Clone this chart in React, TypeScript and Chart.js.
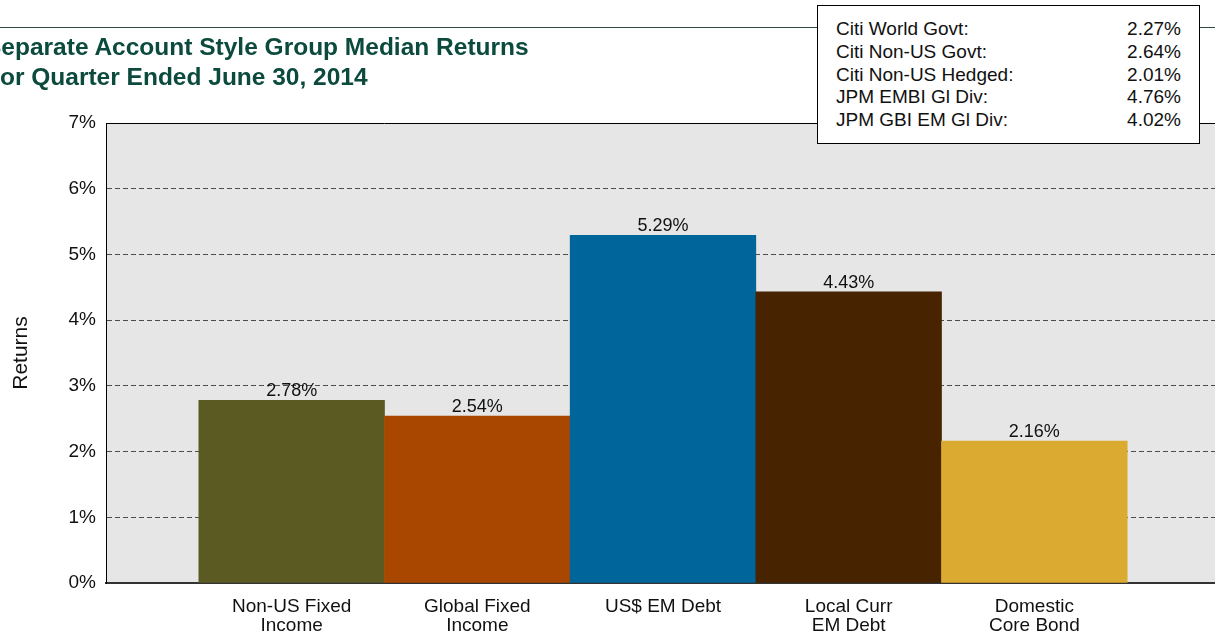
import React, { useEffect, useRef } from 'react';
import { Chart, registerables } from 'chart.js';

Chart.register(...registerables);

const FONT = "'Liberation Sans', Arial, Helvetica, sans-serif";

const titleLines = ['Separate Account Style Group Median Returns', 'For Quarter Ended June 30, 2014'];
const categories: (string | string[])[] = [
  ['Non-US Fixed', 'Income'],
  ['Global Fixed', 'Income'],
  'US$ EM Debt',
  ['Local Curr', 'EM Debt'],
  ['Domestic', 'Core Bond'],
];
const returns = [2.78, 2.54, 5.29, 4.43, 2.16];
const barColors = ['#5b5a22', '#a94700', '#00659b', '#472300', '#dbab31'];
const yTicks = [0, 1, 2, 3, 4, 5, 6, 7];
const yAxisTitle = 'Returns';
const indexNames = ['Citi World Govt:', 'Citi Non-US Govt:', 'Citi Non-US Hedged:', 'JPM EMBI Gl Div:', 'JPM GBI EM Gl Div:'];
const indexReturns = [2.27, 2.64, 2.01, 4.76, 4.02];

// pad with an empty half-category band on each side
const paddedLabels = ['', ...categories, ''];
const paddedValues: (number | null)[] = [null, ...returns, null];
const paddedColors = ['rgba(0,0,0,0)', ...barColors, 'rgba(0,0,0,0)'];

const decorPlugin = {
  id: 'decor',
  beforeDraw(chart: any) {
    const { ctx, chartArea: a } = chart;
    ctx.save();
    ctx.fillStyle = '#e6e6e6';
    ctx.fillRect(a.left, a.top, a.right - a.left, a.bottom - a.top);
    ctx.restore();
  },
  afterDatasetsDraw(chart: any) {
    const { ctx, chartArea: a } = chart;
    ctx.save();
    ctx.strokeStyle = '#000';
    ctx.lineWidth = 1;
    ctx.beginPath();
    ctx.moveTo(a.left, Math.round(a.top) + 0.5);
    ctx.lineTo(a.right, Math.round(a.top) + 0.5);
    ctx.stroke();
    const meta = chart.getDatasetMeta(0);
    ctx.fillStyle = '#111';
    ctx.font = `18px ${FONT}`;
    ctx.textAlign = 'center';
    ctx.textBaseline = 'middle';
    meta.data.forEach((el: any, i: number) => {
      const v = paddedValues[i];
      if (v == null) return;
      ctx.fillText(v.toFixed(2) + '%', el.x, el.y - 9);
    });
    ctx.restore();
  },
};

export default function App() {
  const canvasRef = useRef<HTMLCanvasElement | null>(null);

  useEffect(() => {
    if (!canvasRef.current) return;
    Chart.defaults.font.family = FONT;
    const chart = new Chart(canvasRef.current, {
      type: 'bar',
      data: {
        labels: paddedLabels,
        datasets: [
          {
            data: paddedValues,
            backgroundColor: paddedColors,
            borderWidth: 0,
            barPercentage: 1,
            categoryPercentage: 1,
          },
        ],
      },
      options: {
        animation: false,
        responsive: false,
        layout: { padding: { top: 123, right: 6, bottom: 0, left: 0 } },
        plugins: {
          legend: { display: false },
          tooltip: { enabled: false },
          title: { display: false },
        },
        scales: {
          x: {
            type: 'category',
            offset: false,
            grid: { display: false },
            border: { display: true, color: '#333', width: 2 },
            ticks: {
              autoSkip: false,
              maxRotation: 0,
              minRotation: 0,
              padding: 6,
              color: '#111',
              font: { size: 19, lineHeight: 1.0 },
            },
            afterFit: (s: any) => {
              s.height = 52;
            },
          },
          y: {
            min: 0,
            max: 7,
            afterBuildTicks: (s: any) => {
              s.ticks = yTicks.map((v) => ({ value: v }));
            },
            ticks: {
              callback: (v: any) => v + '%',
              padding: 10,
              color: '#111',
              font: { size: 19 },
            },
            grid: {
              drawTicks: false,
              lineWidth: 1,
              color: (c: any) =>
                c.tick && (c.tick.value === 0 || c.tick.value === 7) ? 'rgba(0,0,0,0)' : '#4d4d4d',
            },
            border: { display: true, color: '#000', width: 1, dash: [5, 3] },
            title: {
              display: true,
              text: yAxisTitle,
              color: '#111',
              font: { size: 21 },
              padding: { top: 9, bottom: 0 },
            },
            afterFit: (s: any) => {
              s.width = 106;
            },
          },
        },
      },
      plugins: [decorPlugin],
    } as any);
    return () => chart.destroy();
  }, []);

  return (
    <div style={{ position: 'absolute', left: 0, top: 0, width: 1215, height: 635, overflow: 'hidden', background: '#fff' }}>
      <canvas ref={canvasRef} width={1226} height={635} style={{ display: 'block', position: 'absolute', left: 0, top: 0 }} />
      <div style={{ position: 'absolute', left: 0, top: 27, width: 1215, height: 1, background: '#2f4a45' }} />
      <div
        style={{
          position: 'absolute',
          left: -15,
          top: 32,
          fontFamily: FONT,
          fontWeight: 'bold',
          fontSize: 24.5,
          lineHeight: '30px',
          color: '#0b4a3d',
          whiteSpace: 'nowrap',
        }}
      >
        {titleLines.map((t, i) => (
          <div key={i}>{t}</div>
        ))}
      </div>
      <div
        style={{
          position: 'absolute',
          left: 817,
          top: 5,
          width: 383,
          height: 139,
          boxSizing: 'border-box',
          border: '1px solid #000',
          background: '#fff',
          paddingTop: 12,
          paddingLeft: 18,
          paddingRight: 18,
          fontFamily: FONT,
          fontSize: 19,
          color: '#111',
        }}
      >
        {indexNames.map((n, i) => (
          <div
            key={i}
            style={{ display: 'flex', justifyContent: 'space-between', height: 22.75, lineHeight: '22.75px', whiteSpace: 'nowrap' }}
          >
            <span>{n}</span>
            <span>{indexReturns[i].toFixed(2)}%</span>
          </div>
        ))}
      </div>
    </div>
  );
}
